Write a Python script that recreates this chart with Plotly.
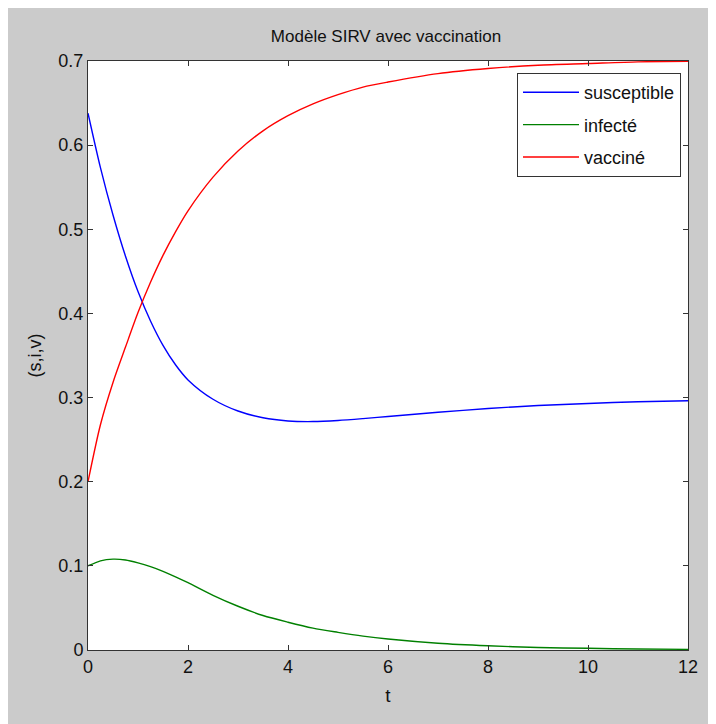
import plotly.graph_objects as go

# Data
t = [0, 0.25, 0.5, 0.75, 1, 1.25, 1.5, 1.75, 2, 2.5, 3, 3.5, 4, 4.5, 5, 5.5, 6, 7, 8, 9, 10, 11, 12]
susceptible = [0.638, 0.573, 0.517, 0.468, 0.426, 0.391, 0.362, 0.339, 0.321, 0.298, 0.284, 0.276,
               0.2722, 0.2715, 0.2728, 0.2750, 0.2775, 0.2825, 0.2870, 0.2905, 0.2930, 0.2950, 0.2962]
infecte = [0.100, 0.106, 0.108, 0.107, 0.1035, 0.099, 0.0935, 0.087, 0.080, 0.065, 0.052, 0.041,
           0.033, 0.026, 0.021, 0.0165, 0.013, 0.008, 0.005, 0.003, 0.002, 0.0012, 0.0008]
vaccine = [0.200, 0.268, 0.318, 0.360, 0.401, 0.437, 0.469, 0.497, 0.522, 0.562, 0.593, 0.617,
           0.635, 0.649, 0.660, 0.669, 0.675, 0.685, 0.691, 0.695, 0.697, 0.699, 0.6995]

series_names = ["susceptible", "infecté", "vacciné"]
series_colors = ["#0000ff", "#008000", "#ff0000"]
x_ticks = [0, 2, 4, 6, 8, 10, 12]
y_ticks = [0, 0.1, 0.2, 0.3, 0.4, 0.5, 0.6, 0.7]
y_ticktext = ["0", "0.1", "0.2", "0.3", "0.4", "0.5", "0.6", "0.7"]

FONT = "Liberation Sans, Arial, sans-serif"
fig = go.Figure()
for i, (name, ys, col) in enumerate(zip(series_names, [susceptible, infecte, vaccine], series_colors)):
    fig.add_trace(go.Scatter(x=t, y=ys, mode="lines", name=name,
                             line=dict(color=col, width=1.4, shape="spline", smoothing=0.8),
                             legendgroup=f"g{i}"))

# page has an 8px body margin, so the figure is a bit smaller than the window
W, H = 708, 716
L, T = 80, 53
pw, ph = 600, 589
R, B = W - L - pw, H - T - ph

def px_to_paper_x(px):
    return (px - 8 - L) / pw

def py_to_paper_y(py):
    return (T + ph - (py - 8)) / ph

axis_common = dict(showgrid=False, zeroline=False, showline=True, linecolor="#333333", linewidth=1,
                   mirror="ticks", ticks="inside", ticklen=5, tickcolor="#333333",
                   tickfont=dict(family=FONT, size=18, color="#111111"))

fig.update_layout(
    width=W, height=H,
    margin=dict(l=L, r=R, t=T, b=B, autoexpand=False),
    paper_bgcolor="#cbcbcb", plot_bgcolor="white",
    title=dict(text="Modèle SIRV avec vaccination", x=px_to_paper_x(386), xref="paper",
               xanchor="center", y=1 - 28 / H, yanchor="middle",
               font=dict(family=FONT, size=17, color="#111111")),
    xaxis=dict(range=[0, 12], tickvals=x_ticks, title=dict(text="t", standoff=13,
               font=dict(family=FONT, size=19, color="#111111")), **axis_common),
    yaxis=dict(range=[0, 0.7], tickvals=y_ticks, ticktext=y_ticktext,
               title=dict(text="(s,i,v)", standoff=12, font=dict(family=FONT, size=18, color="#111111")),
               **axis_common),
    legend=dict(x=px_to_paper_x(681), y=py_to_paper_y(73), xanchor="right", yanchor="top",
                bgcolor="white", bordercolor="#333333", borderwidth=1,
                font=dict(family=FONT, size=18, color="#111111"),
                itemwidth=56, tracegroupgap=6, traceorder="grouped"),
    showlegend=True,
)

fig.write_html("out.html")
